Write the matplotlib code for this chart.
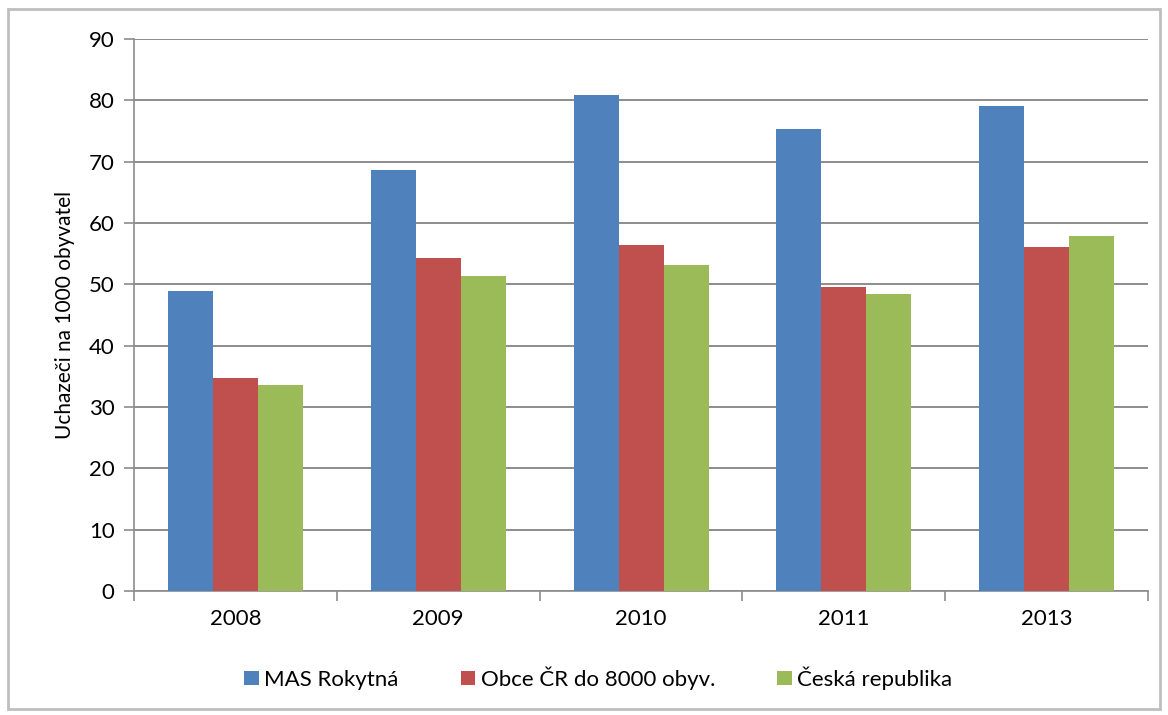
import numpy as np
import matplotlib.pyplot as plt
from matplotlib.patches import Rectangle

# Unemployed per 1000 inhabitants
years = ["2008", "2009", "2010", "2011", "2013"]
mas_rokytna = [48.9, 68.6, 80.9, 75.4, 79.1]
obce_cr = [34.8, 54.3, 56.4, 49.5, 56.1]
ceska_republika = [33.6, 51.4, 53.2, 48.5, 57.8]

series_names = ["MAS Rokytná", "Obce ČR do 8000 obyv.", "Česká republika"]
colors = ["#4F81BD", "#C0504D", "#9BBB59"]

plt.rcParams["font.family"] = ["Lato", "DejaVu Sans"]

fig = plt.figure(figsize=(11.68, 7.15), dpi=100)
ax = fig.add_axes([0.1147, 0.1734, 0.8683, 0.7721])

# thin grey frame round the whole chart
fig.patches.append(Rectangle((0.007, 0.008), 0.986, 0.98, transform=fig.transFigure,
                             fill=False, edgecolor="#BFBFBF", linewidth=2))

x = np.arange(len(years))
w = 0.222
for i, (vals, name, c) in enumerate(zip([mas_rokytna, obce_cr, ceska_republika],
                                         series_names, colors)):
    ax.bar(x + (i - 1) * w, vals, width=w, color=c, label=name, zorder=3)

ax.set_xlim(-0.5, len(years) - 0.5)
ax.set_ylim(0, 90)
ax.set_yticks(np.arange(0, 91, 10))
ax.yaxis.grid(True, color="#8C8C8C", linewidth=1.4, zorder=0)
ax.set_axisbelow(True)

ax.set_xticks(x)
ax.set_xticklabels(years)
ax.set_xticks(np.arange(-0.5, len(years), 1), minor=True)
ax.tick_params(axis="x", which="major", length=0, pad=13, labelsize=16)
ax.tick_params(axis="x", which="minor", length=7, color="#8C8C8C", width=1.2)
ax.tick_params(axis="y", length=7, color="#8C8C8C", width=1.2, pad=7, labelsize=16)

for side in ["top", "right"]:
    ax.spines[side].set_visible(False)
for side in ["left", "bottom"]:
    ax.spines[side].set_color("#8C8C8C")
    ax.spines[side].set_linewidth(1.2)

ax.set_ylabel("Uchazeči na 1000 obyvatel", fontsize=15, labelpad=10)

ax.legend(loc="upper center", bbox_to_anchor=(0.458, -0.1), ncol=3, frameon=False,
          fontsize=16, handlelength=0.65, handleheight=0.65, handletextpad=0.25,
          columnspacing=2.8)

fig.savefig("out.png", dpi=100)
